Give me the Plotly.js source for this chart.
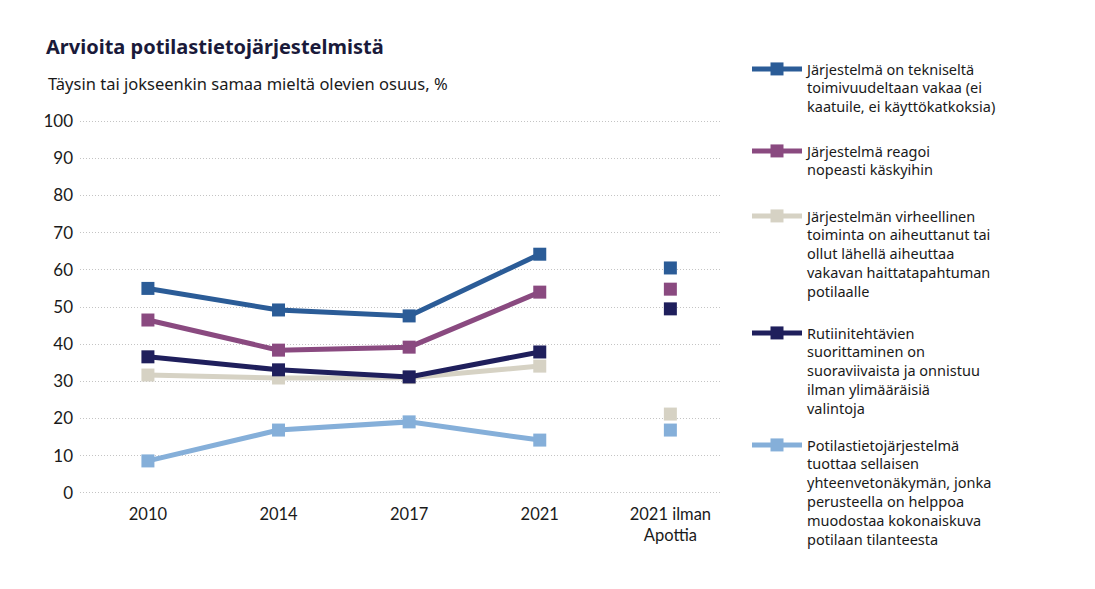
<!DOCTYPE html>
<html>
<head>
<meta charset="utf-8">
<script src="https://cdn.plot.ly/plotly-3.0.1.min.js"></script>
<style>html,body{margin:0;padding:0;background:#fff;}#chart{width:1095px;height:589px;}</style>
</head>
<body>
<div id="chart"></div>
<script>
var categories = ['2010', '2014', '2017', '2021'];
var extraCategory = '2021 ilman Apottia';
var tickLabels = ['2010', '2014', '2017', '2021', '2021 ilman<br>Apottia'];

var seriesNames = [
  'Järjestelmä on tekniseltä<br>toimivuudeltaan vakaa (ei<br>kaatuile, ei käyttökatkoksia)',
  'Järjestelmä reagoi<br>nopeasti käskyihin',
  'Järjestelmän virheellinen<br>toiminta on aiheuttanut tai<br>ollut lähellä aiheuttaa<br>vakavan haittatapahtuman<br>potilaalle',
  'Rutiinitehtävien<br>suorittaminen on<br>suoraviivaista ja onnistuu<br>ilman ylimääräisiä<br>valintoja',
  'Potilastietojärjestelmä<br>tuottaa sellaisen<br>yhteenvetonäkymän, jonka<br>perusteella on helppoa<br>muodostaa kokonaiskuva<br>potilaan tilanteesta'
];

var vakaa = [55, 49.2, 47.6, 64.2];
var reagoi = [46.5, 38.4, 39.2, 54];
var virheellinen = [31.7, 30.9, 31, 34.1];
var rutiini = [36.6, 33.1, 31.2, 37.9];
var yhteenveto = [8.6, 16.9, 19.1, 14.2];

var ilmanApottia = [60.5, 54.8, 21.2, 49.5, 16.9];

var colors = ['#2b5c97', '#8a4a80', '#d6d2c4', '#1f1f5c', '#85afd9'];
var allSeries = [vakaa, reagoi, virheellinen, rutiini, yhteenveto];

var font = '"Noto Sans", "Open Sans", sans-serif';
var tickFontFamily = 'Lato, "Noto Sans", sans-serif';
var legendIds = ['legend', 'legend2', 'legend3', 'legend4', 'legend5'];
var legendTopsPx = [53, 135, 200, 317, 429];

var traces = [];
allSeries.forEach(function (vals, i) {
  traces.push({
    type: 'scatter', mode: 'lines+markers',
    x: categories, y: vals, name: seriesNames[i],
    legend: legendIds[i],
    line: {color: colors[i], width: 5},
    marker: {symbol: 'square', size: 13, color: colors[i]},
    cliponaxis: false, hoverinfo: 'y'
  });
});
allSeries.forEach(function (vals, i) {
  traces.push({
    type: 'scatter', mode: 'markers',
    x: [extraCategory], y: [ilmanApottia[i]],
    showlegend: false,
    marker: {symbol: 'square', size: 13, color: colors[i]},
    cliponaxis: false, hoverinfo: 'y'
  });
});

var plotTop = 120, plotH = 374;
var layout = {
  width: 1095, height: 589,
  paper_bgcolor: '#fff', plot_bgcolor: '#fff',
  margin: {l: 80, r: 375, t: plotTop, b: 589 - plotTop - plotH},
  font: {family: font, size: 16, color: '#1a1a1a'},
  title: {
    text: '<b>Arvioita potilastietojärjestelmistä</b>',
    x: 46 / 1095, xanchor: 'left', xref: 'container',
    y: 1 - 47 / 589, yanchor: 'middle', yref: 'container',
    font: {family: font, size: 20, color: '#1a1a3a'}
  },
  annotations: [{
    text: 'Täysin tai jokseenkin samaa mieltä olevien osuus, %',
    xref: 'paper', yref: 'paper', x: -34 / 640, y: 1 + (plotTop - 83) / plotH,
    xanchor: 'left', yanchor: 'middle', showarrow: false,
    font: {family: font, size: 16.5, color: '#1a1a1a'}
  }],
  xaxis: {
    type: 'category',
    categoryorder: 'array',
    categoryarray: categories.concat([extraCategory]),
    tickvals: categories.concat([extraCategory]),
    ticktext: tickLabels,
    range: [-0.52, 4.38],
    showgrid: false, zeroline: false, showline: false,
    ticks: '', ticklabelstandoff: 8,
    tickfont: {family: tickFontFamily, size: 16.5, color: '#1a1a1a'}
  },
  yaxis: {
    range: [-0.3, 100.3], tickvals: [0, 10, 20, 30, 40, 50, 60, 70, 80, 90, 100],
    showgrid: true, gridcolor: '#c4c4c4', griddash: '1px,2px', gridwidth: 1,
    zeroline: false, showline: false, ticks: '',
    ticklabelstandoff: 6,
    tickfont: {family: tickFontFamily, size: 17, color: '#1a1a1a'}
  },
  showlegend: true
};

legendIds.forEach(function (id, i) {
  layout[id] = {
    x: (747 - 80) / 640, xanchor: 'left',
    y: 1 + (plotTop - legendTopsPx[i]) / plotH, yanchor: 'top',
    valign: 'top', itemwidth: 50,
    font: {family: font, size: 14.5, color: '#1a1a1a'},
    bgcolor: 'rgba(0,0,0,0)', itemclick: false, itemdoubleclick: false
  };
});

Plotly.newPlot('chart', traces, layout, {displayModeBar: false, staticPlot: true});
</script>
</body>
</html>
